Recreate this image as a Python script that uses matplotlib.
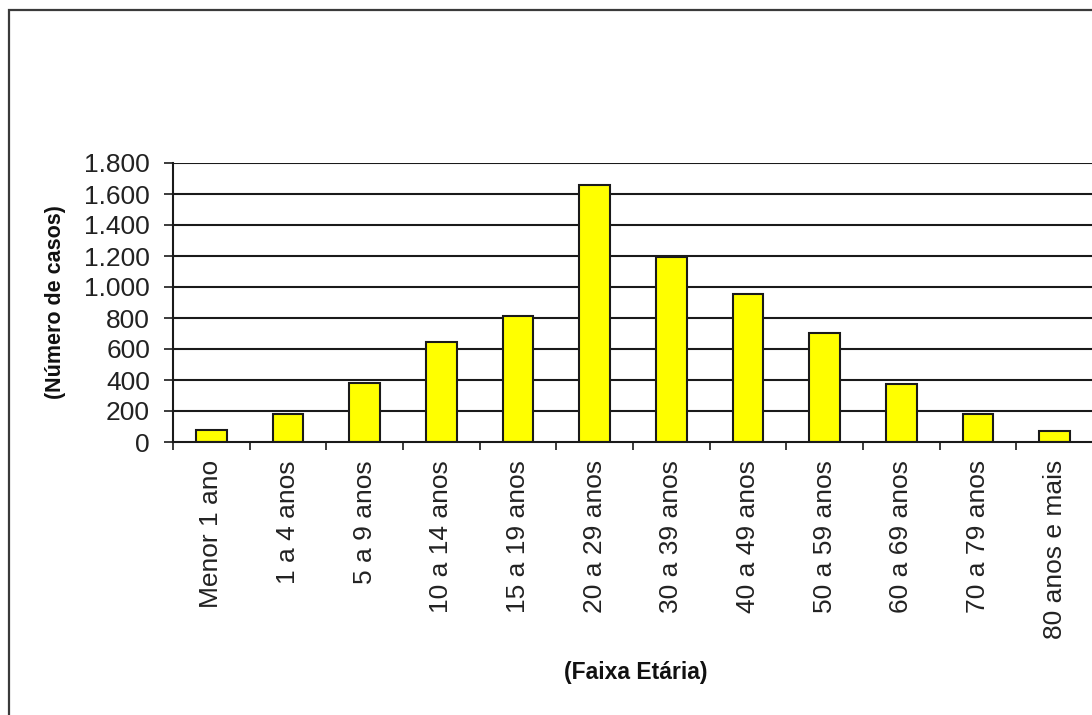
import matplotlib
matplotlib.use("Agg")
import matplotlib.pyplot as plt
from matplotlib.patches import Rectangle
import numpy as np

plt.rcParams['font.family'] = ['Liberation Sans', 'DejaVu Sans']

categorias = ["Menor 1 ano", "1 a 4 anos", "5 a 9 anos", "10 a 14 anos",
              "15 a 19 anos", "20 a 29 anos", "30 a 39 anos", "40 a 49 anos",
              "50 a 59 anos", "60 a 69 anos", "70 a 79 anos", "80 anos e mais"]
casos = [77, 179, 378, 645, 810, 1658, 1195, 955, 701, 374, 180, 73]
y_ticks = [0, 200, 400, 600, 800, 1000, 1200, 1400, 1600, 1800]
y_tick_labels = ["0", "200", "400", "600", "800", "1.000", "1.200",
                 "1.400", "1.600", "1.800"]

W, H = 1092, 715
fig = plt.figure(figsize=(W / 100, H / 100), dpi=100)
fig.patch.set_facecolor("white")

# outer chart frame (continues past the right and bottom edges)
fig.patches.append(Rectangle((9 / W, -0.05), 1.2, 1 - 10 / H + 0.05,
                             transform=fig.transFigure, fill=False,
                             edgecolor="#3a3a3a", linewidth=1.6))

left, right = 173 / W, 1093 / W
bottom, top = 1 - 442 / H, 1 - 163 / H
ax = fig.add_axes([left, bottom, right - left, top - bottom])
ax.set_facecolor("none")

x = np.arange(len(categorias))
ax.bar(x, casos, width=0.4, color="#FFFF00", edgecolor="#1a1a1a",
       linewidth=1.5, zorder=3)

ax.set_xlim(-0.5, len(categorias) - 0.5)
ax.set_ylim(0, 1800)

# horizontal gridlines
for v in y_ticks[1:]:
    ax.axhline(v, color="#1a1a1a", linewidth=1.5, zorder=1)

ax.set_yticks(y_ticks)
ax.set_yticklabels(y_tick_labels, fontsize=19)
ax.tick_params(axis="y", direction="out", length=6.5, width=1.2, pad=10,
               colors="#1a1a1a", labelcolor="#222222")

ax.set_xticks(x)
ax.set_xticklabels(categorias, rotation=90, fontsize=19, va="top", ha="center")
ax.tick_params(axis="x", which="major", length=0, pad=13, labelcolor="#222222")
ax.set_xticks(np.arange(-0.5, len(categorias), 1.0), minor=True)
ax.tick_params(axis="x", which="minor", direction="out", length=5.5,
               width=1.2, colors="#1a1a1a")

for side in ("top", "right"):
    ax.spines[side].set_visible(False)
for side in ("left", "bottom"):
    ax.spines[side].set_color("#1a1a1a")
    ax.spines[side].set_linewidth(1.5)
    ax.spines[side].set_zorder(4)

fig.text(55 / W, 1 - 302 / H, "(Número de casos)", rotation=90,
         fontsize=15.5, fontweight="bold", ha="center", va="center",
         color="#111111")
fig.text(636 / W, 1 - 673 / H, "(Faixa Etária)", fontsize=16.5,
         fontweight="bold", ha="center", va="center", color="#111111")

fig.savefig("out.png", dpi=100, facecolor="white")
